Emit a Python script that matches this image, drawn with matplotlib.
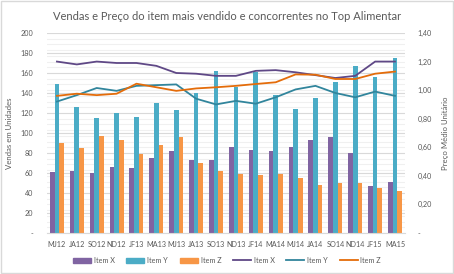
import matplotlib
matplotlib.use("Agg")
import matplotlib.pyplot as plt
import numpy as np
from matplotlib.ticker import MultipleLocator, FuncFormatter
from matplotlib.patches import Patch, Rectangle
from matplotlib.lines import Line2D

# periodos (bimestres)
periodos = ["MJ12", "JA12", "SO12", "ND12", "JF13", "MA13", "MJ13", "JA13", "SO13",
            "ND13", "JF14", "MA14", "MJ14", "JA14", "SO14", "ND14", "JF15", "MA15"]

# vendas em unidades
vendas_x = [61, 62, 60, 66, 65, 75, 82, 73, 73, 86, 83, 82, 86, 93, 96, 80, 47, 51]
vendas_y = [149, 126, 115, 120, 116, 130, 123, 140, 162, 146, 161, 138, 124, 135, 151, 167, 156, 175]
vendas_z = [90, 85, 97, 93, 79, 88, 96, 70, 62, 59, 58, 59, 55, 48, 50, 50, 45, 42]

# preco medio unitario
preco_x = [1.20, 1.18, 1.20, 1.19, 1.19, 1.17, 1.12, 1.115, 1.10, 1.10, 1.135, 1.14,
           1.125, 1.105, 1.085, 1.10, 1.20, 1.20]
preco_y = [0.92, 0.965, 1.015, 0.995, 1.03, 1.035, 1.04, 0.94, 0.90, 0.925, 0.905, 0.95,
           1.005, 1.03, 0.98, 0.95, 0.99, 0.96]
preco_z = [0.96, 0.975, 0.965, 0.975, 1.045, 1.02, 0.995, 1.012, 1.02, 1.03, 1.043, 1.055,
           1.11, 1.108, 1.078, 1.078, 1.115, 1.13]

cor_bx, cor_by, cor_bz = "#8064A2", "#4BACC6", "#F79646"
cor_lx, cor_ly, cor_lz = "#5F4886", "#31859C", "#E46C0A"
cinza = "#595959"

plt.rcParams['font.family'] = ['Lato', 'DejaVu Sans']

fig = plt.figure(figsize=(4.54, 2.74), dpi=100)
ax = fig.add_axes([0.1035, 0.1496, 0.7885, 0.73])
ax2 = ax.twinx()

x = np.arange(len(periodos))
w = 0.235
ax.bar(x - w, vendas_x, w, color=cor_bx, zorder=2)
ax.bar(x, vendas_y, w, color=cor_by, zorder=2)
ax.bar(x + w, vendas_z, w, color=cor_bz, zorder=2)

ax2.plot(x, preco_x, color=cor_lx, lw=1.3)
ax2.plot(x, preco_y, color=cor_ly, lw=1.3)
ax2.plot(x, preco_z, color=cor_lz, lw=1.3)

ax.set_xlim(-0.5, len(periodos) - 0.5)
ax.set_ylim(0, 200)
ax2.set_ylim(0, 1.4)
ax.yaxis.set_major_locator(MultipleLocator(20))
ax.yaxis.set_minor_locator(MultipleLocator(200 / 35))
ax2.yaxis.set_major_locator(MultipleLocator(0.2))

ax.grid(axis='y', which='major', color="#d9d9d9", lw=0.8, zorder=0)
ax.grid(axis='y', which='minor', color="#f0f0f0", lw=0.8, zorder=0)
ax.set_axisbelow(True)

ax.yaxis.set_major_formatter(FuncFormatter(lambda v, p: "-" if v == 0 else "%d" % v))
ax2.yaxis.set_major_formatter(FuncFormatter(
    lambda v, p: "-" if abs(v) < 1e-9 else ("%.2f" % v).replace(".", ",")))

ax.set_xticks(x)
ax.set_xticklabels(periodos)
for a in (ax, ax2):
    for s in a.spines.values():
        s.set_visible(False)
    a.tick_params(length=0, labelsize=5.2, colors=cinza, which='both')
ax.spines['bottom'].set_visible(True)
ax.spines['bottom'].set_color("#d9d9d9")
ax.tick_params(axis='y', pad=10)
ax2.tick_params(axis='y', pad=9)
ax.tick_params(axis='x', pad=6)

ax.set_ylabel("Vendas em Unidades", fontsize=5.6, color=cinza, labelpad=5)
ax2.set_ylabel("Preço Médio Unitário", fontsize=5.6, color=cinza, labelpad=7)

fig.suptitle("Vendas e Preço do item mais vendido e concorrentes no Top Alimentar",
             fontsize=8.0, color=cinza, y=0.96)

handles = [Patch(color=cor_bx, label="Item X"), Patch(color=cor_by, label="Item Y"),
           Patch(color=cor_bz, label="Item Z"),
           Line2D([], [], color=cor_lx, lw=1.3, label="Item X"),
           Line2D([], [], color=cor_ly, lw=1.3, label="Item Y"),
           Line2D([], [], color=cor_lz, lw=1.3, label="Item Z")]
fig.legend(handles=handles, loc='center', bbox_to_anchor=(0.5, 0.05), ncol=6,
           frameon=False, fontsize=5.2, labelcolor=cinza, handlelength=2.5,
           handleheight=0.6, columnspacing=1.6, handletextpad=0.4)

fig.patches.append(Rectangle((0.003, 0.005), 0.994, 0.99, transform=fig.transFigure,
                             fill=False, edgecolor="#d9d9d9", lw=1))

fig.savefig("out.png", dpi=100)
